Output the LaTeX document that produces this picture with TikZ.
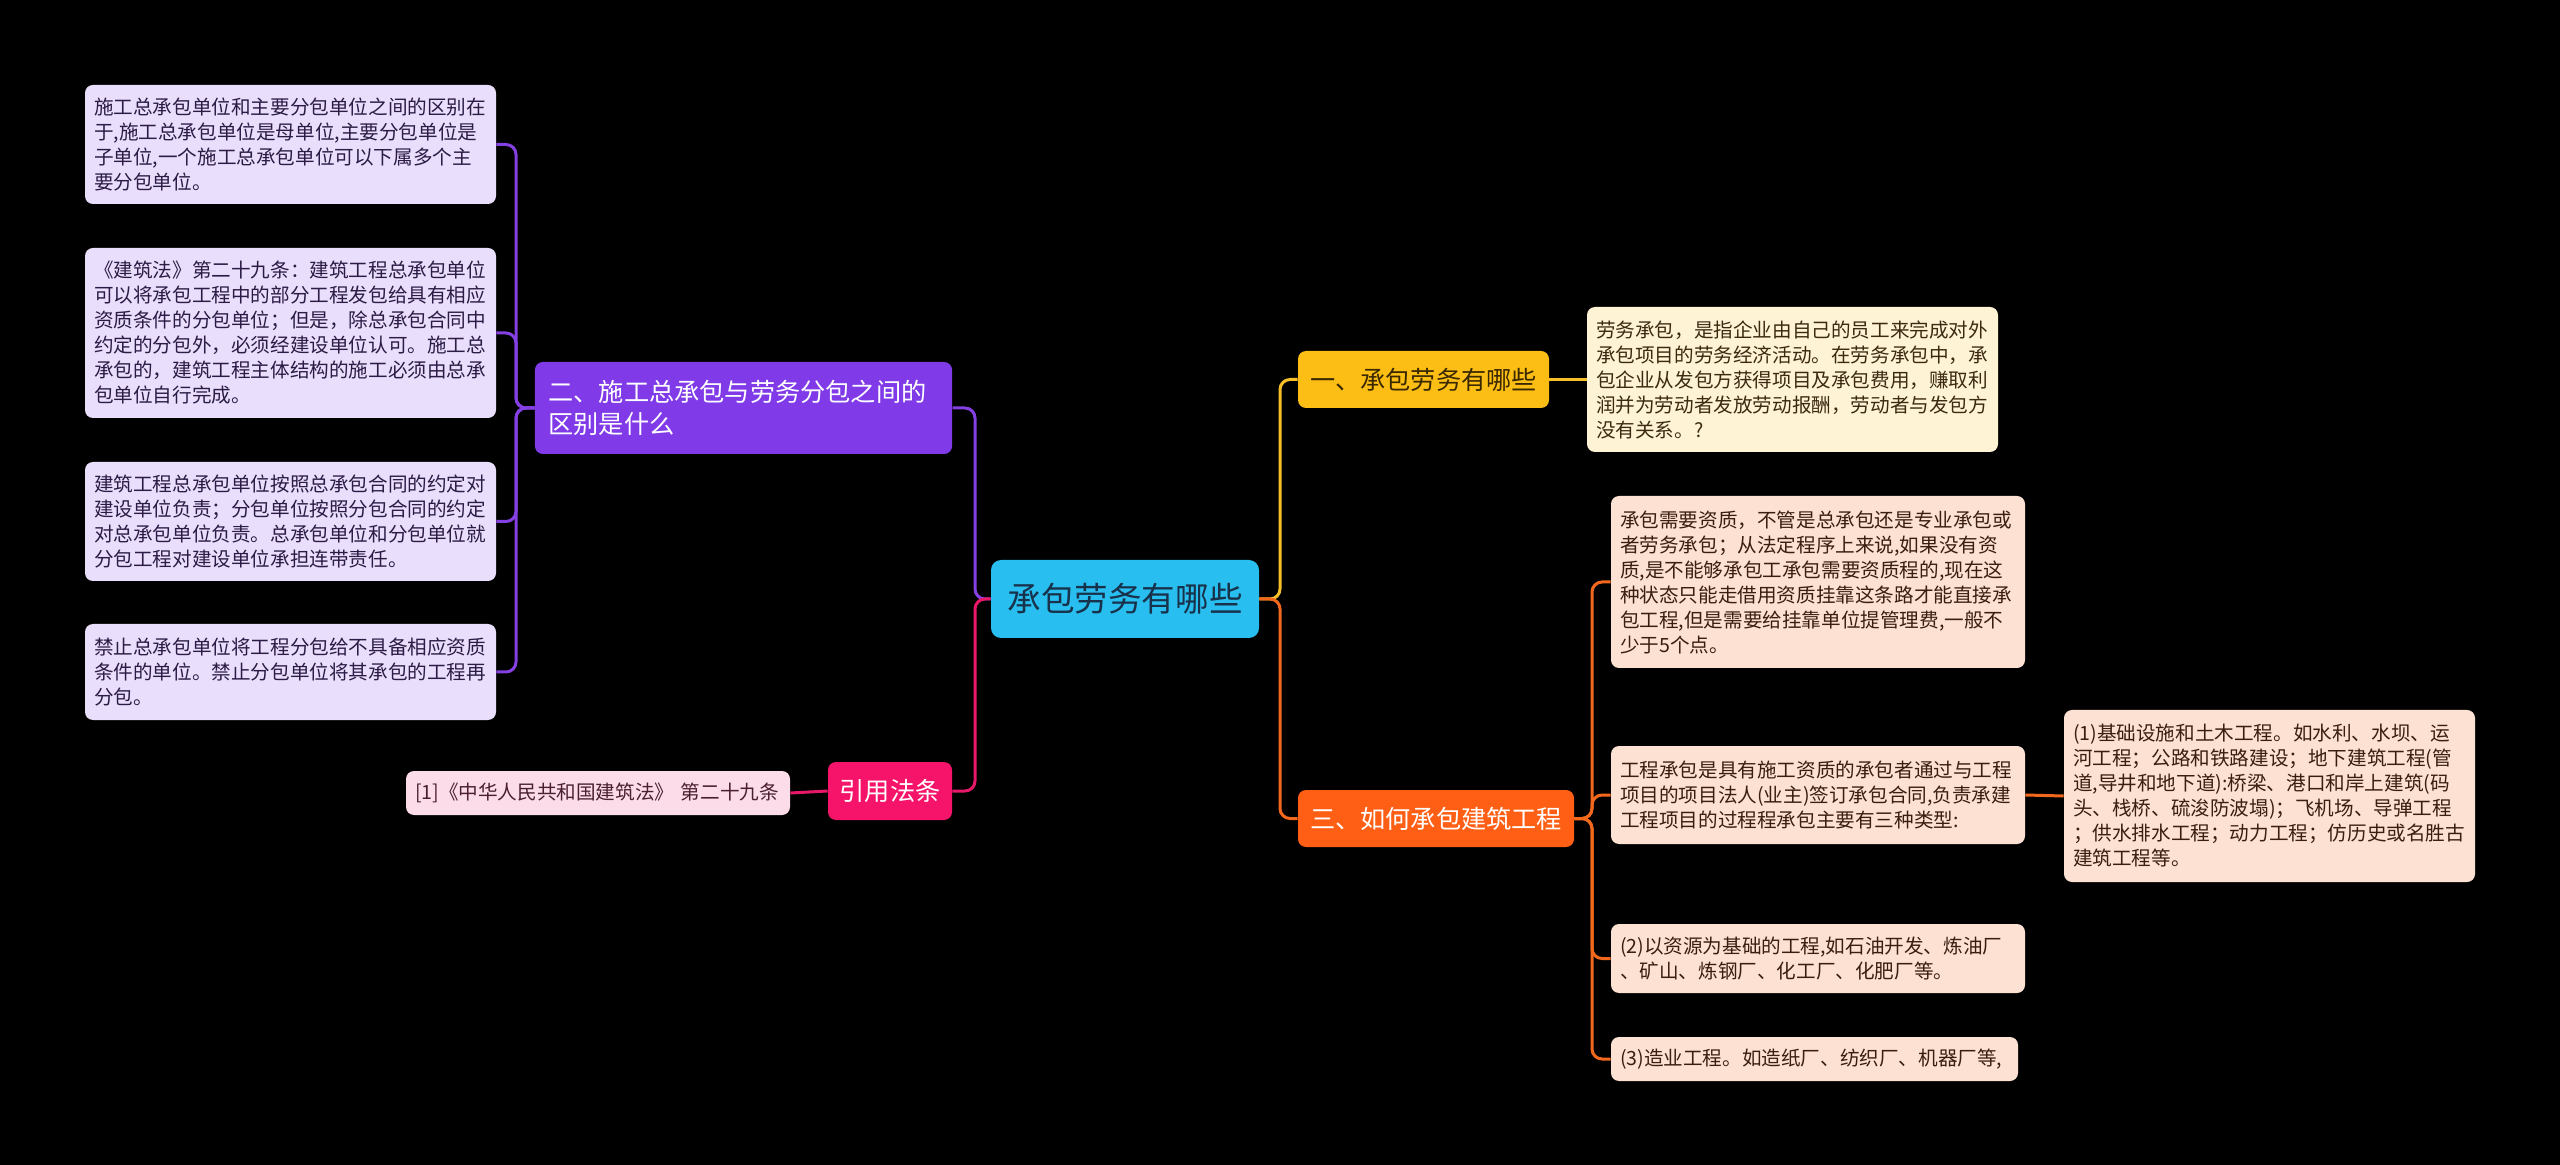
\documentclass[tikz,border=0pt]{standalone}
\usepackage{fontspec}
\setmainfont{Noto Sans CJK SC}
\definecolor{HubCyan}{RGB}{40,190,240}
\definecolor{HubInk}{RGB}{23,50,74}
\definecolor{AmberBranch}{RGB}{252,190,20}
\definecolor{AmberInk}{RGB}{58,40,0}
\definecolor{OrangeBranch}{RGB}{255,95,20}
\definecolor{PurpleBranch}{RGB}{128,58,232}
\definecolor{PinkBranch}{RGB}{245,20,105}
\definecolor{LilacLeaf}{RGB}{233,222,251}
\definecolor{LilacInk}{RGB}{43,27,69}
\definecolor{CreamLeaf}{RGB}{255,243,214}
\definecolor{CreamInk}{RGB}{59,42,16}
\definecolor{PeachLeaf}{RGB}{253,226,212}
\definecolor{PeachInk}{RGB}{58,30,16}
\definecolor{PinkLeaf}{RGB}{252,220,232}
\definecolor{PinkInk}{RGB}{74,32,48}
\definecolor{AmberLine}{RGB}{247,192,40}
\definecolor{OrangeLine}{RGB}{242,104,28}
\definecolor{PurpleLine}{RGB}{132,64,226}
\definecolor{PinkLine}{RGB}{232,24,104}
\usepackage{tikz}
\usetikzlibrary{positioning}

\begin{document}
\begin{tikzpicture}[x=0.5pt, y=-0.5pt,
	hub/.style={rectangle, rounded corners=5pt, fill=HubCyan, text=HubInk,
		minimum width=134pt, minimum height=39pt, inner sep=0pt,
		font=\fontsize{16.8pt}{20pt}\selectfont},
	rama/.style={rectangle, rounded corners=4pt, minimum height=28.5pt,
		inner xsep=5.5pt, inner ysep=0pt, font=\fontsize{12.6pt}{16.3pt}\selectfont},
	hoja/.style={rectangle, rounded corners=4pt, align=left, inner xsep=4.5pt,
		inner ysep=0pt, font=\fontsize{9.8pt}{12.5pt}\selectfont},
	lila/.style={hoja, fill=LilacLeaf, text=LilacInk, text width=196.5pt},
	crema/.style={hoja, fill=CreamLeaf, text=CreamInk, text width=196.5pt},
	melo/.style={hoja, fill=PeachLeaf, text=PeachInk, text width=198pt},
	rosa/.style={hoja, fill=PinkLeaf, text=PinkInk, text width=183pt},
	ln/.style={line width=1.5pt, rounded corners=5pt}]

	\fill[black] (0,0) rectangle (2560,1165);

	% centre and main branches
	\node[hub] (hub) at (1125,599) {承包劳务有哪些};
	\node[rama, fill=AmberBranch, text=AmberInk, minimum width=125.5pt]
		(b1) at (1423.5,379.5) {一、承包劳务有哪些};
	\node[rama, fill=OrangeBranch, text=white, minimum width=138pt]
		(b3) at (1436,818.5) {三、如何承包建筑工程};
	\node[rama, fill=PurpleBranch, text=white, minimum width=208.5pt,
		minimum height=46pt, align=left, text width=195pt, inner xsep=6.8pt]
		(b2) at (743.5,408) {二、施工总承包与劳务分包之间的\\区别是什么};
	\node[rama, fill=PinkBranch, text=white, minimum width=62pt, minimum height=29pt]
		(b4) at (890,791) {引用法条};

	% left leaves
	\node[lila, minimum height=59.5pt] (p1) at (290.5,144.5)
		{施工总承包单位和主要分包单位之间的区别在\\
		 于,施工总承包单位是母单位,主要分包单位是\\
		 子单位,一个施工总承包单位可以下属多个主\\
		 要分包单位。};
	\node[lila, minimum height=85pt] (p2) at (290.5,333)
		{《建筑法》第二十九条：建筑工程总承包单位\\
		 可以将承包工程中的部分工程发包给具有相应\\
		 资质条件的分包单位；但是，除总承包合同中\\
		 约定的分包外，必须经建设单位认可。施工总\\
		 承包的，建筑工程主体结构的施工必须由总承\\
		 包单位自行完成。};
	\node[lila, minimum height=59.5pt] (p3) at (290.5,521.5)
		{建筑工程总承包单位按照总承包合同的约定对\\
		 建设单位负责；分包单位按照分包合同的约定\\
		 对总承包单位负责。总承包单位和分包单位就\\
		 分包工程对建设单位承担连带责任。};
	\node[lila, minimum height=48pt] (p4) at (290.5,672)
		{禁止总承包单位将工程分包给不具备相应资质\\
		 条件的单位。禁止分包单位将其承包的工程再\\
		 分包。};
	\node[rosa, minimum height=22pt] (q1) at (598,793)
		{[1]《中华人民共和国建筑法》 第二十九条};

	% right leaves
	\node[crema, minimum height=72.5pt] (c1) at (1792.5,379.5)
		{劳务承包，是指企业由自己的员工来完成对外\\
		 承包项目的劳务经济活动。在劳务承包中，承\\
		 包企业从发包方获得项目及承包费用，赚取利\\
		 润并为劳动者发放劳动报酬，劳动者与发包方\\
		 没有关系。?};
	\node[melo, minimum height=86pt] (m1) at (1818,582)
		{承包需要资质，不管是总承包还是专业承包或\\
		 者劳务承包；从法定程序上来说,如果没有资\\
		 质,是不能够承包工承包需要资质程的,现在这\\
		 种状态只能走借用资质挂靠这条路才能直接承\\
		 包工程,但是需要给挂靠单位提管理费,一般不\\
		 少于5个点。};
	\node[melo, minimum height=49pt] (m2) at (1818,795)
		{工程承包是具有施工资质的承包者通过与工程\\
		 项目的项目法人(业主)签订承包合同,负责承建\\
		 工程项目的过程程承包主要有三种类型:};
	\node[melo, minimum height=86pt, text width=196.5pt] (m2a) at (2269.5,796)
		{(1)基础设施和土木工程。如水利、水坝、运\\
		 河工程；公路和铁路建设；地下建筑工程(管\\
		 道,导井和地下道):桥梁、港口和岸上建筑(码\\
		 头、栈桥、硫浚防波塌)；飞机场、导弹工程\\
		 ；供水排水工程；动力工程；仿历史或名胜古\\
		 建筑工程等。};
	\node[melo, minimum height=34.5pt] (m3) at (1818,958.5)
		{(2)以资源为基础的工程,如石油开发、炼油厂\\
		 、矿山、炼钢厂、化工厂、化肥厂等。};
	\node[melo, minimum height=22pt, text width=194.5pt] (m4) at (1814.5,1059)
		{(3)造业工程。如造纸厂、纺织厂、机器厂等,};

	% connectors
	\coordinate (jL) at (975,599);
	\coordinate (jR) at (1280,599);
	\coordinate (jP) at (516,408);
	\coordinate (jO) at (1592,818.5);

	\draw[ln, PurpleLine] (hub.west) -- (jL) |- (b2.east);
	\draw[ln, PinkLine] (hub.west) -- (jL) |- (b4.east);
	\draw[ln, AmberLine] (hub.east) -- (jR) |- (b1.west);
	\draw[ln, OrangeLine] (hub.east) -- (jR) |- (b3.west);
	\draw[ln, AmberLine] (b1.east) -- (c1.west);
	\foreach \n in {m1,m2,m3,m4}
		\draw[ln, OrangeLine] (b3.east) -- (jO) |- (\n.west);
	\draw[ln, OrangeLine] (m2.east) -- (m2a.west);
	\foreach \n in {p1,p2,p3,p4}
		\draw[ln, PurpleLine] (b2.west) -- (jP) |- (\n.east);
	\draw[ln, PinkLine] (b4.west) -- (q1.east);
\end{tikzpicture}
\end{document}
